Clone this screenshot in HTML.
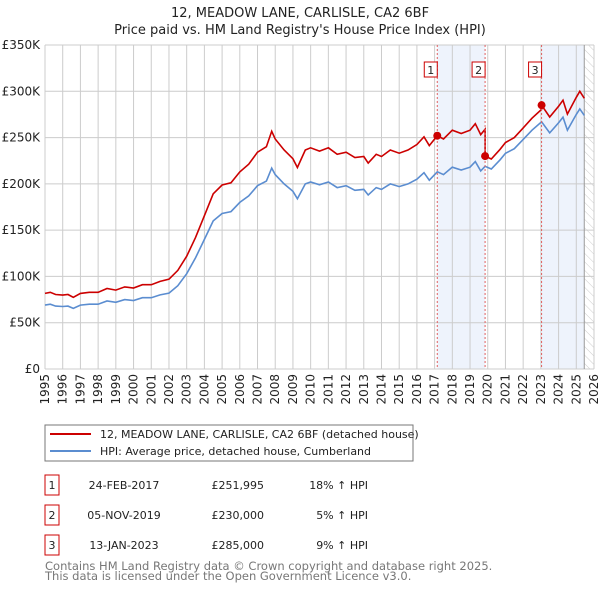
<!DOCTYPE html>
<html><head><meta charset="utf-8"><style>
body{margin:0;background:#fff;width:600px;height:590px;overflow:hidden}
svg{display:block;font-family:"DejaVu Sans","Liberation Sans",sans-serif}
</style></head><body>
<svg id="chart" width="600" height="590" xmlns="http://www.w3.org/2000/svg">
<defs><pattern id="hatch" width="6" height="6" patternUnits="userSpaceOnUse" patternTransform="rotate(-45)"><line x1="0" y1="0" x2="0" y2="6" stroke="#ccc" stroke-width="1"/></pattern></defs>
<text x="300" y="17" text-anchor="middle" font-size="13" fill="#222">12, MEADOW LANE, CARLISLE, CA2 6BF</text>
<text x="300" y="34" text-anchor="middle" font-size="13" fill="#222">Price paid vs. HM Land Registry's House Price Index (HPI)</text>
<g id="shade"></g><g id="grid"></g><g id="axes"></g><g id="lines"></g><g id="marks"></g>
<g>
<rect x="45" y="425" width="368" height="36" fill="#fff" stroke="#777"/>
<line x1="50" y1="434" x2="91" y2="434" stroke="#cc0000" stroke-width="2"/>
<text x="100" y="438" font-size="11" fill="#222">12, MEADOW LANE, CARLISLE, CA2 6BF (detached house)</text>
<line x1="50" y1="451" x2="91" y2="451" stroke="#5b8dd0" stroke-width="2"/>
<text x="100" y="455" font-size="11" fill="#222">HPI: Average price, detached house, Cumberland</text>
</g>
<g id="table" font-size="11" fill="#222"></g>
<text x="45" y="570" font-size="11.5" fill="#777">Contains HM Land Registry data © Crown copyright and database right 2025.</text>
<text x="45" y="580" font-size="11.5" fill="#777">This data is licensed under the Open Government Licence v3.0.</text>
</svg>
<script>
const hpiDates=[1995.0,1995.3,1995.6,1996.0,1996.3,1996.6,1997.0,1997.5,1998.0,1998.5,1999.0,1999.5,2000.0,2000.5,2001.0,2001.5,2002.0,2002.5,2003.0,2003.5,2004.0,2004.5,2005.0,2005.5,2006.0,2006.5,2007.0,2007.5,2007.8,2008.0,2008.5,2009.0,2009.25,2009.7,2010.0,2010.5,2011.0,2011.5,2012.0,2012.5,2013.0,2013.25,2013.7,2014.0,2014.5,2015.0,2015.5,2016.0,2016.4,2016.7,2017.15,2017.5,2018.0,2018.5,2019.0,2019.3,2019.6,2019.85,2020.2,2020.7,2021.0,2021.5,2022.0,2022.5,2023.04,2023.5,2024.0,2024.25,2024.5,2025.0,2025.2,2025.45];
const hpiValues=[69,70,68,67.5,68,65.5,69,70,70,73.5,72,75,74,77,77,80,82,90,103,120,140,160,168,170,180,187,198,203,217,210,200,192,184,200,202,199,202,196,198,193,194,188,196,194,200,197,200,205,212,204,213,210,218,215,218,224,214,219,216,226,233,238,248,258,267,255,266,272,258,275,281,274];
const saleDates=[2017.15,2019.85,2023.04];
const salePrices=[251995,230000,285000];
const saleLabels=["1","2","3"];
const saleDateText=["24-FEB-2017","05-NOV-2019","13-JAN-2023"];
const salePriceText=["£251,995","£230,000","£285,000"];
const salePctText=["18% ↑ HPI","5% ↑ HPI","9% ↑ HPI"];
const yTicks=[0,50000,100000,150000,200000,250000,300000,350000];
const yTickLabels=["£0","£50K","£100K","£150K","£200K","£250K","£300K","£350K"];
const xYears=[1995,1996,1997,1998,1999,2000,2001,2002,2003,2004,2005,2006,2007,2008,2009,2010,2011,2012,2013,2014,2015,2016,2017,2018,2019,2020,2021,2022,2023,2024,2025,2026];

const NS="http://www.w3.org/2000/svg";
const X0=45,X1=594,Y0=369,Y1=45;
const xs=t=>X0+(t-1995)/(2026-1995)*(X1-X0);
const ys=v=>Y0-v/350000*(Y0-Y1);
function mk(tag,attrs,parent){const e=document.createElementNS(NS,tag);for(const k in attrs)e.setAttribute(k,attrs[k]);parent.appendChild(e);return e;}
const g=id=>document.getElementById(id);
const hpiAt=t=>{for(let i=1;i<hpiDates.length;i++){if(t<=hpiDates[i]){const f=(t-hpiDates[i-1])/(hpiDates[i]-hpiDates[i-1]);return (hpiValues[i-1]+f*(hpiValues[i]-hpiValues[i-1]))*1000;}}return hpiValues[hpiValues.length-1]*1000;};

let e;
e=mk('rect',{x:xs(saleDates[0]),y:Y1,width:xs(saleDates[1])-xs(saleDates[0]),height:Y0-Y1,fill:'#eef3fc'},g('shade'));


e=mk('rect',{x:xs(saleDates[2]),y:Y1,width:xs(hpiDates[hpiDates.length-1])-xs(saleDates[2]),height:Y0-Y1,fill:'#eef3fc'},g('shade'));


const lastX=xs(hpiDates[hpiDates.length-1]);
e=mk('rect',{x:lastX,y:Y1,width:X1-lastX,height:Y0-Y1,fill:'url(#hatch)'},g('shade'));



xYears.forEach(yr=>{const l=mk('line',{x1:xs(yr),x2:xs(yr),y1:Y1,y2:Y0,stroke:'#cccccc','stroke-width':1},g('grid'));


const tx=xs(yr)+4,ty=374;
const t=mk('text',{x:tx,y:ty,'text-anchor':'end','font-size':12,fill:'#222',transform:'rotate(-90 '+tx+' '+ty+')'},g('axes'));t.textContent=yr;

});
yTicks.forEach((v,i)=>{const l=mk('line',{x1:X0,x2:X1,y1:ys(v),y2:ys(v),stroke:'#cccccc','stroke-width':1},g('grid'));


const t=mk('text',{x:40,y:ys(v)+4,'text-anchor':'end','font-size':12,fill:'#222'},g('axes'));t.textContent=yTickLabels[i];

});
e=mk('line',{x1:lastX,x2:lastX,y1:Y1,y2:Y0,stroke:'#999','stroke-width':1},g('grid'));



const bluePts=hpiDates.map((t,i)=>xs(t).toFixed(1)+','+ys(hpiValues[i]*1000).toFixed(1));
e=mk('polyline',{points:bluePts.join(' '),fill:'none',stroke:'#5b8dd0','stroke-width':1.6},g('lines'));


function ratioAt(t){let k=0;for(let i=0;i<saleDates.length;i++){if(t>=saleDates[i])k=i;}return salePrices[k]/hpiAt(saleDates[k]);}
const redT=[];hpiDates.forEach(t=>redT.push(t));saleDates.forEach(t=>{redT.push(t-0.001);redT.push(t);});redT.sort((a,b)=>a-b);
const redPts=redT.map(t=>xs(t).toFixed(1)+','+ys(hpiAt(t)*ratioAt(t)).toFixed(1));
e=mk('polyline',{points:redPts.join(' '),fill:'none',stroke:'#cc0000','stroke-width':1.6},g('lines'));



saleDates.forEach((t,i)=>{
const x=xs(t);
const v=mk('line',{x1:x,x2:x,y1:Y1,y2:Y0,stroke:'#e06060','stroke-width':1,'stroke-dasharray':'2,2'},g('marks'));


const c=mk('circle',{cx:x,cy:ys(salePrices[i]),r:4,fill:'#cc0000'},g('marks'));


const b=mk('rect',{x:x-13,y:62,width:13,height:15,fill:'#fff',stroke:'#cc0000'},g('marks'));


const bt=mk('text',{x:x-6.5,y:74,'text-anchor':'middle','font-size':11,fill:'#222'},g('marks'));bt.textContent=saleLabels[i];


const ry=475+i*30;
const rb=mk('rect',{x:45,y:ry,width:14,height:20,fill:'#fff',stroke:'#cc0000'},g('table'));


const cells=[[52,'middle',saleLabels[i]],[124,'middle',saleDateText[i]],[264,'end',salePriceText[i]],[368,'end',salePctText[i]]];
cells.forEach(cl=>{const tt=mk('text',{x:cl[0],y:ry+14,'text-anchor':cl[1]},g('table'));tt.textContent=cl[2];

});
});
</script>
</body></html>
